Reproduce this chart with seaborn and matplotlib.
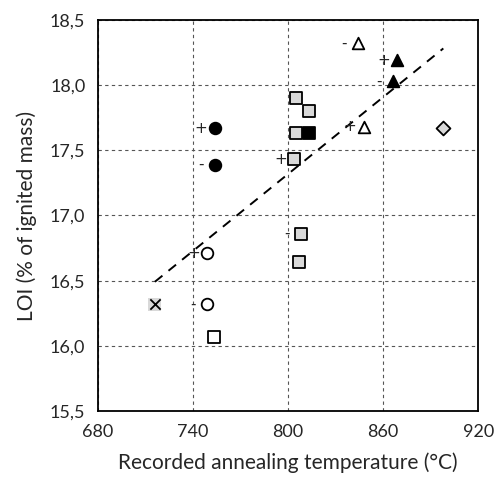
import numpy as np
import pandas as pd
import matplotlib
matplotlib.use("Agg")
import matplotlib.pyplot as plt
from matplotlib.ticker import FuncFormatter
import seaborn as sns

# Donnees
fc_x = [754, 754]
fc_y = [17.67, 17.39]
fc_sign = ["+", "-"]

oc_x = [749, 749]
oc_y = [16.71, 16.32]
oc_sign = ["+", "-"]

gs_x = [805, 813, 805, 804, 808, 807]
gs_y = [17.90, 17.80, 17.63, 17.43, 16.86, 16.64]
gs_sign = ["", "", "", "+", "-", ""]

bs_x = [813]
bs_y = [17.63]

os_x = [753]
os_y = [16.07]

ot_x = [844, 848]
ot_y = [18.32, 17.68]
ot_sign = ["-", "+"]

ft_x = [869, 866]
ft_y = [18.19, 18.03]
ft_sign = ["+", "-"]

dm_x = [898]
dm_y = [17.67]

cx_x = [716]
cx_y = [16.32]

x_ticks = [680, 740, 800, 860, 920]
y_ticks = [15.5, 16.0, 16.5, 17.0, 17.5, 18.0, 18.5]

sns.set_style("white")
plt.rcParams["font.family"] = ["Lato", "DejaVu Sans"]

fig = plt.figure(figsize=(4.94, 4.87), dpi=100)
ax = fig.add_axes([0.198, 0.156, 0.770, 0.803])

# Groupes : (x, y, marqueur, couleur de fond)
groups = [
    (gs_x, gs_y, "s", "#d9d9d9"),
    (bs_x, bs_y, "s", "black"),
    (os_x, os_y, "s", "white"),
    (fc_x, fc_y, "o", "black"),
    (oc_x, oc_y, "o", "white"),
    (ot_x, ot_y, "^", "white"),
    (ft_x, ft_y, "^", "black"),
    (dm_x, dm_y, "D", "#d9d9d9"),
]

# Droite de tendance sur toutes les mesures
all_x = gs_x + bs_x + os_x + fc_x + oc_x + ot_x + ft_x + dm_x + cx_x
all_y = gs_y + bs_y + os_y + fc_y + oc_y + ot_y + ft_y + dm_y + cx_y
df = pd.DataFrame({"T": all_x, "LOI": all_y})
sns.regplot(data=df, x="T", y="LOI", scatter=False, ci=None, truncate=True,
            line_kws={"color": "black", "ls": (0, (5, 4)), "lw": 1.4}, ax=ax)

for gx, gy, m, fc in groups:
    sns.scatterplot(x=gx, y=gy, marker=m, color=fc, edgecolor="black",
                    linewidth=1.3, s=70 if m != "D" else 50, ax=ax, zorder=3)

# Point croix sur fond gris
sns.scatterplot(x=cx_x, y=cx_y, marker="s", color="#d9d9d9", edgecolor="none",
                s=90, ax=ax, zorder=3)
sns.scatterplot(x=cx_x, y=cx_y, marker="x", color="black", linewidth=1.3,
                s=55, ax=ax, zorder=4)

# Signes + / -
for gx, gy, signs in [(fc_x, fc_y, fc_sign), (oc_x, oc_y, oc_sign),
                      (gs_x, gs_y, gs_sign), (ot_x, ot_y, ot_sign),
                      (ft_x, ft_y, ft_sign)]:
    for xi, yi, sg in zip(gx, gy, signs):
        if sg:
            ax.annotate(sg, (xi, yi), xytext=(-10, 0), textcoords="offset points",
                        ha="center", va="center", fontsize=11,
                        family="DejaVu Sans", zorder=5)

ax.set_xlim(680, 920)
ax.set_ylim(15.5, 18.5)
ax.set_xticks(x_ticks)
ax.set_yticks(y_ticks)
ax.yaxis.set_major_formatter(FuncFormatter(lambda v, p: f"{v:.1f}".replace(".", ",")))
ax.tick_params(axis="both", length=0, labelsize=13, pad=9)
ax.grid(True, ls=(0, (3, 3)), color="#555555", lw=0.8)
for s in ax.spines.values():
    s.set_color("black")
    s.set_linewidth(1.3)

ax.set_xlabel("Recorded annealing temperature (°C)", fontsize=15, labelpad=9)
ax.set_ylabel("LOI (% of ignited mass)", fontsize=15, labelpad=9)

fig.savefig("out.png", dpi=100)
